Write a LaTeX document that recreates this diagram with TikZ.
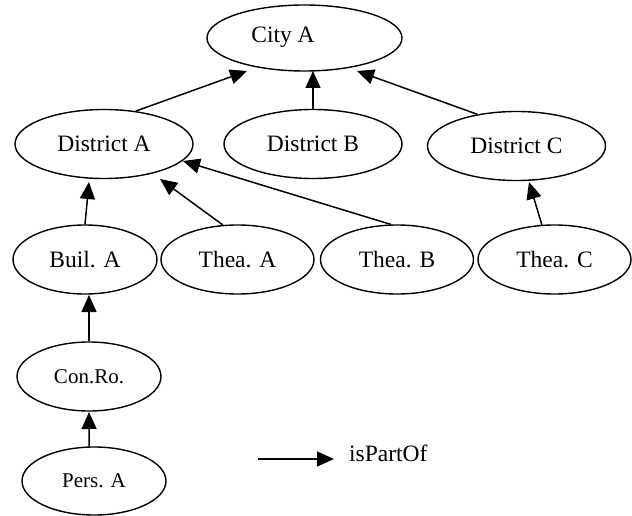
\documentclass[tikz,border=0pt]{standalone}
\usepackage{fontspec}
\setmainfont{Liberation Serif}
\usetikzlibrary{shapes.geometric,arrows.meta}
\begin{document}
\begin{tikzpicture}[x=1pt,y=-1pt,
  ell/.style={draw,ellipse,line width=1.4pt,inner sep=0pt,font=\fontsize{23.5}{27}\selectfont},
  bigell/.style={ell,minimum width=178pt,minimum height=69pt},
  midell/.style={ell,minimum width=153pt,minimum height=69pt},
  smallell/.style={ell,minimum width=144pt,minimum height=69pt},
  smallfont/.style={font=\fontsize{21}{25}\selectfont},
  arr/.style={line width=1.5pt,-{Triangle[length=17pt,width=15pt]}}]
\useasboundingbox (0,0) rectangle (632,516);
% nodes
\node[ell,minimum width=195pt,minimum height=66pt] (city) at (304.5,38) {};
\node[font=\fontsize{23.5}{27}\selectfont] (cityt) at (283,37) {City A};
\node[bigell] (dA) at (104,144) {District A};
\node[bigell] (dB) at (313,144) {District B};
\node[bigell] (dC) at (516.5,146) {District C};
\node[smallell] (builA) at (85,259.5) {Buil. A};
\node[midell] (theaA) at (237.5,259.5) {Thea. A};
\node[midell] (theaB) at (397,259.5) {Thea. B};
\node[midell] (theaC) at (554.5,259.5) {Thea. C};
\node[smallell,smallfont] (conro) at (89,376.5) {Con.Ro.};
\node[smallell,smallfont,minimum height=68pt] (persA) at (94,481) {Pers. A};
% arrow tips
\coordinate (tA) at (247,71);
\coordinate (tB) at (313,71);
\coordinate (tC) at (357,71);
\coordinate (tBuil) at (89,182);
\coordinate (tThA) at (160,179);
\coordinate (tThB) at (183,161);
\coordinate (tThC) at (529,182);
\coordinate (tCon) at (89,295);
\coordinate (tPers) at (89,412);
% connectors
\draw[arr] (dA.46) -- (tA);
\draw[arr] (dB.north) -- (tB);
\draw[arr] (dC.141) -- (tC);
\draw[arr] (builA.north) -- (tBuil);
\draw[arr] (theaA.113) -- (tThA);
\draw[arr] (theaB.100) -- (tThB);
\draw[arr] (theaC.110) -- (tThC);
\draw[arr] (conro.north) -- (tCon);
\draw[arr] (persA.98) -- (tPers);
% legend
\coordinate (l1) at (258,459);
\coordinate (l2) at (334,459);
\draw[arr] (l1) -- (l2);
\node[anchor=west,inner sep=0pt,font=\fontsize{23.5}{27}\selectfont] (legt) at (349,453) {isPartOf};
\end{tikzpicture}
\end{document}
